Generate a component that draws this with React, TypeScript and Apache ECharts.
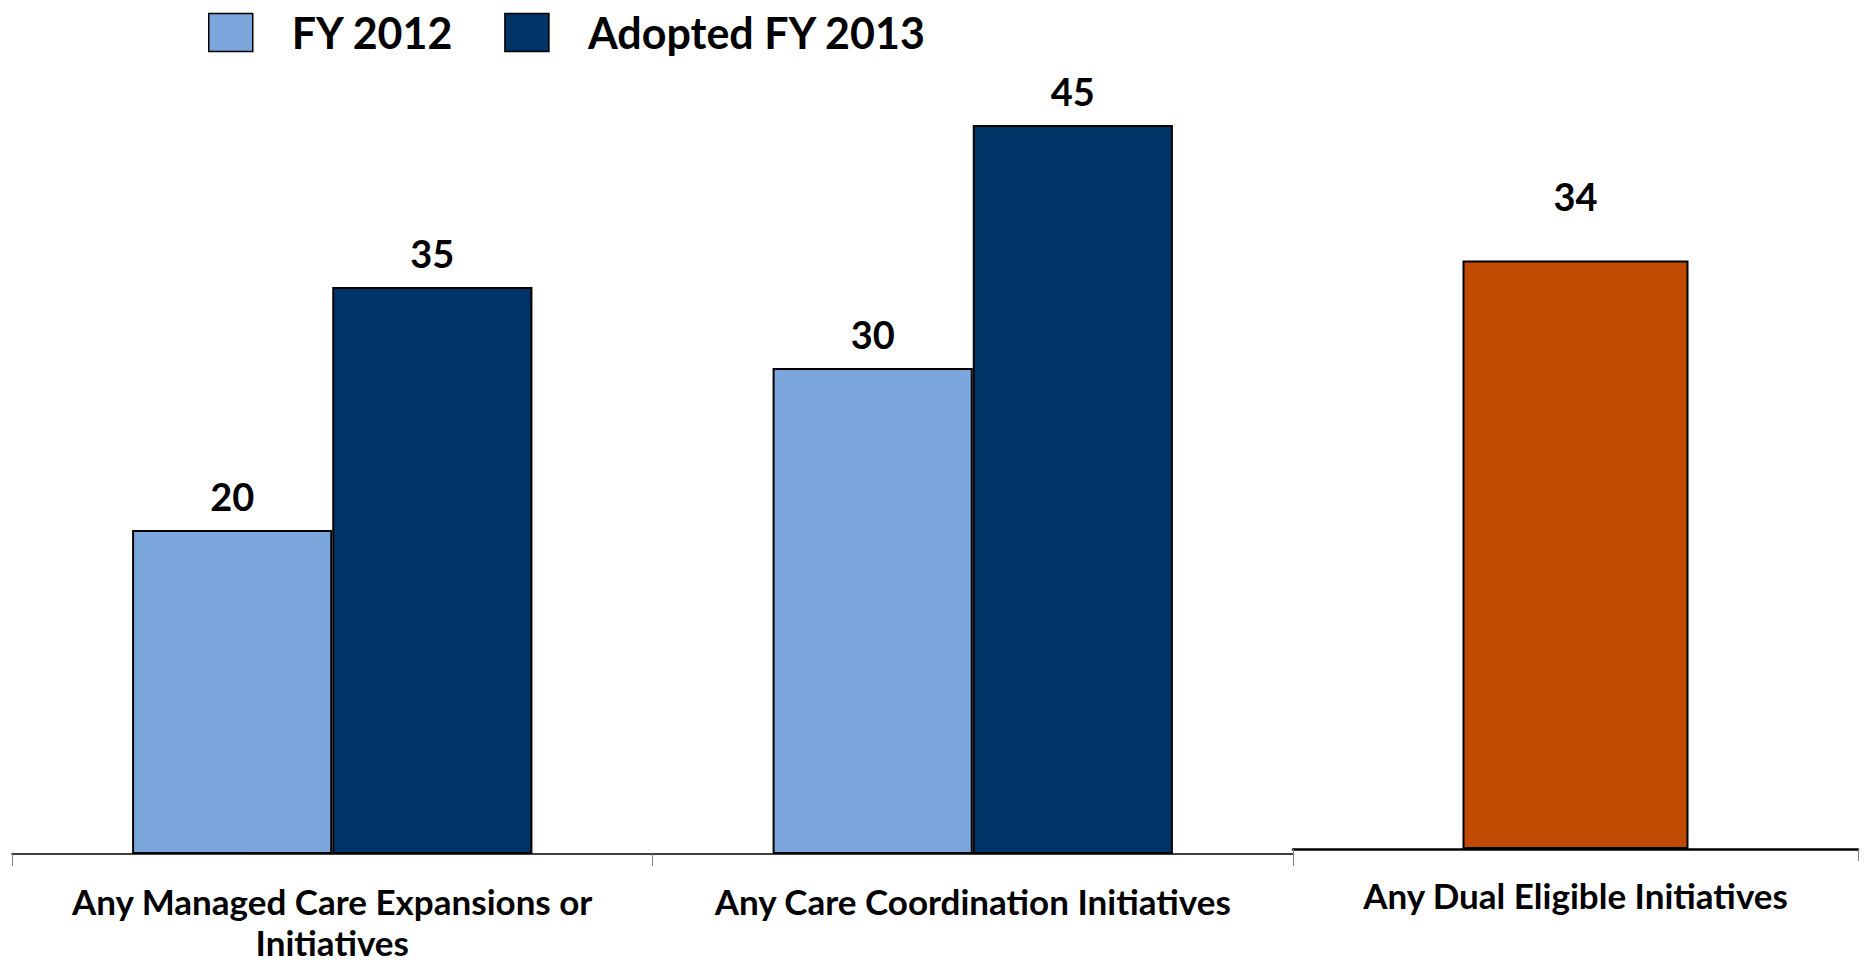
import React, { useEffect, useRef } from 'react';
import * as echarts from 'echarts';

const categoriesLeft = ['Any Managed Care Expansions or\nInitiatives', 'Any Care Coordination Initiatives'];
const fy2012 = [20, 30];
const adoptedFy2013 = [35, 45];
const categoriesRight = ['Any Dual Eligible Initiatives'];
const dualEligible = [34];
const legendNames = ['FY 2012', 'Adopted FY 2013'];

const FONT = 'Lato';
const LIGHT = '#7aa6db';
const DARK = '#003366';
const ORANGE = '#bf4a00';

export default function App() {
  const ref = useRef<HTMLDivElement>(null);
  useEffect(() => {
    if (!ref.current) return;
    const chart = echarts.init(ref.current, undefined, { renderer: 'svg' });
    const valueLabel = (distance: number) => ({
      show: true,
      position: 'top',
      distance,
      color: '#000',
      fontFamily: FONT,
      fontWeight: 'bold',
      fontSize: 38,
    });
    const barItem = (color: string) => ({ color, borderColor: '#000', borderWidth: 2 });
    chart.setOption({
      animation: false,
      backgroundColor: '#fff',
      textStyle: { fontFamily: FONT },
      legend: {
        data: legendNames,
        left: 208,
        top: 11,
        padding: 0,
        icon: 'rect',
        itemWidth: 44,
        itemHeight: 38,
        itemGap: 50,
        textStyle: {
          fontFamily: FONT,
          fontWeight: 'bold',
          fontSize: 43,
          color: '#000',
          padding: [0, 0, 0, 34],
        },
        itemStyle: { borderColor: '#000', borderWidth: 1.5 },
      },
      grid: [
        { left: 12, width: 1281, top: 44, height: 810, outerBoundsMode: 'none', containLabel: false },
        { left: 1293, width: 565, top: 156.5, height: 692.5, outerBoundsMode: 'none', containLabel: false },
      ],
      xAxis: [
        {
          type: 'category',
          gridIndex: 0,
          data: categoriesLeft,
          axisLine: { lineStyle: { color: '#000', width: 1.5 } },
          axisTick: { show: true, length: 12, lineStyle: { color: '#808080', width: 1 } },
          axisLabel: {
            color: '#000',
            fontFamily: FONT,
            fontWeight: 'bold',
            fontSize: 35,
            lineHeight: 41,
            margin: 26,
            interval: 0,
          },
        },
        {
          type: 'category',
          gridIndex: 1,
          data: categoriesRight,
          axisLine: { lineStyle: { color: '#000', width: 2.5 } },
          axisTick: { show: true, length: 12, lineStyle: { color: '#808080', width: 1 } },
          axisLabel: {
            color: '#000',
            fontFamily: FONT,
            fontWeight: 'bold',
            fontSize: 35,
            lineHeight: 45,
            margin: 23,
            interval: 0,
          },
        },
      ],
      yAxis: [
        { type: 'value', gridIndex: 0, min: 0, max: 50, show: false, splitLine: { show: false } },
        { type: 'value', gridIndex: 1, min: 0, max: 40, show: false, splitLine: { show: false } },
      ],
      series: [
        {
          name: legendNames[0],
          type: 'bar',
          xAxisIndex: 0,
          yAxisIndex: 0,
          data: fy2012,
          barGap: '0%',
          barCategoryGap: '37.5%',
          itemStyle: barItem(LIGHT),
          label: valueLabel(15),
        },
        {
          name: legendNames[1],
          type: 'bar',
          xAxisIndex: 0,
          yAxisIndex: 0,
          data: adoptedFy2013,
          barGap: '0%',
          barCategoryGap: '37.5%',
          itemStyle: barItem(DARK),
          label: valueLabel(15),
        },
        {
          name: 'Any Dual Eligible Initiatives',
          type: 'bar',
          xAxisIndex: 1,
          yAxisIndex: 1,
          data: dualEligible,
          barCategoryGap: '60%',
          itemStyle: barItem(ORANGE),
          label: valueLabel(45),
        },
      ],
    });
    return () => chart.dispose();
  }, []);
  return (
    <div
      ref={ref}
      style={{ position: 'fixed', left: 0, top: 0, width: 1866, height: 963 }}
    />
  );
}
